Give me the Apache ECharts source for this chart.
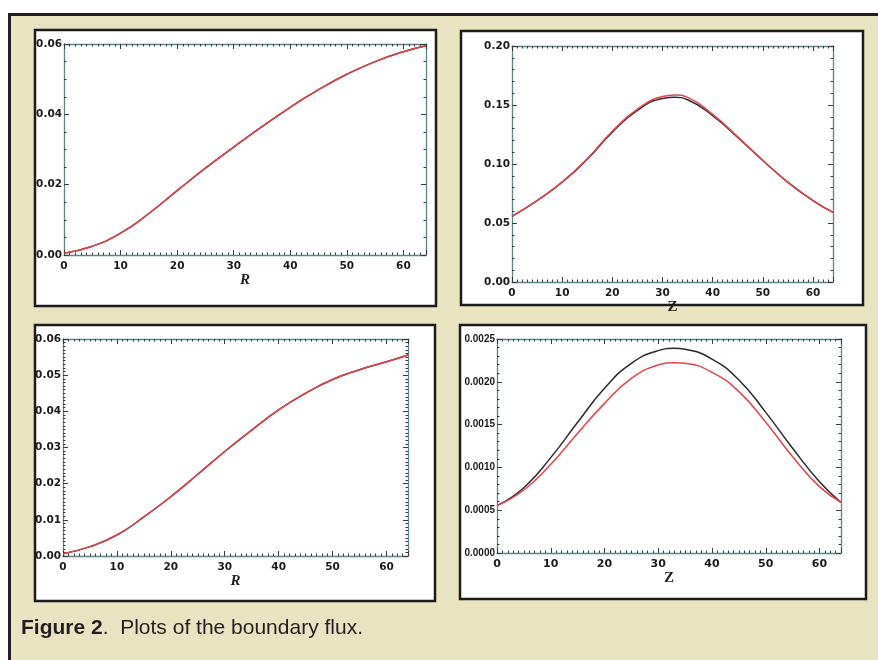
<!DOCTYPE html>
<html>
<head>
<meta charset="utf-8">
<script src="https://cdn.jsdelivr.net/npm/echarts@6/dist/echarts.min.js"></script>
<style>
  html, body { margin: 0; padding: 0; background: #ffffff; }
  #chart { width: 878px; height: 660px; }
</style>
</head>
<body>
<div id="chart"></div>
<script>
// ---- Data ----
// Top-left: boundary flux vs R
const rTL = [0, 5, 10, 15, 20, 25, 30, 35, 40, 45, 50, 55, 60, 64];
const fluxTL_black = [0.0005, 0.0025, 0.0062, 0.0118, 0.0183, 0.0247, 0.0307, 0.0365, 0.0420, 0.0470, 0.0514, 0.0550, 0.0578, 0.0595];
const fluxTL_red   = [0.0005, 0.0025, 0.0062, 0.0118, 0.0183, 0.0247, 0.0307, 0.0365, 0.0420, 0.0470, 0.0514, 0.0550, 0.0578, 0.0595];

// Top-right: boundary flux vs Z
const zTR = [0, 5, 10, 15, 20, 25, 30, 32.5, 35, 40, 45, 50, 55, 60, 64];
const fluxTR_black = [0.0556, 0.069, 0.0845, 0.104, 0.1270, 0.1455, 0.1555, 0.1565, 0.1545, 0.1410, 0.1225, 0.1030, 0.0845, 0.069, 0.059];
const fluxTR_red   = [0.0558, 0.069, 0.0848, 0.1045, 0.1278, 0.1465, 0.1572, 0.1585, 0.1565, 0.1420, 0.1230, 0.1032, 0.0846, 0.069, 0.059];

// Bottom-left: boundary flux vs R
const rBL = [0, 5, 10, 15, 20, 25, 30, 35, 40, 45, 50, 55, 60, 64];
const fluxBL_black = [0.0006, 0.0026, 0.0058, 0.0108, 0.0164, 0.0226, 0.0289, 0.0348, 0.0404, 0.0450, 0.0488, 0.0515, 0.0537, 0.0556];
const fluxBL_red   = [0.0006, 0.0026, 0.0058, 0.0108, 0.0164, 0.0226, 0.0289, 0.0348, 0.0404, 0.0450, 0.0488, 0.0515, 0.0537, 0.0556];

// Bottom-right: boundary flux vs Z
const zBR = [0, 5, 10, 15, 20, 25, 30, 33, 35, 40, 45, 50, 55, 60, 64];
const fluxBR_black = [0.000553, 0.000763, 0.001114, 0.001527, 0.001924, 0.002216, 0.002364, 0.002391, 0.002380, 0.002266, 0.002021, 0.001643, 0.001223, 0.000833, 0.000592];
const fluxBR_red   = [0.000553, 0.000736, 0.001036, 0.001398, 0.001748, 0.002040, 0.002196, 0.002224, 0.002216, 0.002111, 0.001885, 0.001527, 0.001125, 0.000775, 0.000592];

// Axis ranges / tick steps
const xRange = [0, 64];
const xStep = 10;
const yTL = { max: 0.06, step: 0.02, minor: 4, dec: 2 };
const yTR = { max: 0.20, step: 0.05, minor: 5, dec: 2 };
const yBL = { max: 0.06, step: 0.01, minor: 10, dec: 2 };
const yBR = { max: 0.0025, step: 0.0005, minor: 5, dec: 4 };
const captionBold = 'Figure 2';
const captionRest = '.  Plots of the boundary flux.';

// ---- Build chart ----
const pairs = (xs, ys) => xs.map((x, i) => [x, ys[i]]);

const grids = [
  { left: 64, top: 44, width: 362, height: 211 },
  { left: 512, top: 46, width: 321, height: 236 },
  { left: 63, top: 339, width: 345, height: 217 },
  { left: 497, top: 339, width: 344, height: 214 }
];

const axisLineColor = '#5a8782';
const tickColor = '#3a3a3a';
const labelFont = 'DejaVu Sans';

function xAxes(gi, name, italic, nameGap, fontSize) {
  const common = {
    type: 'value', gridIndex: gi, min: xRange[0], max: xRange[1], interval: xStep,
    axisLine: { show: true, onZero: false, lineStyle: { color: axisLineColor, width: 1.3 } },
    axisTick: { show: true, inside: true, length: 5, lineStyle: { color: tickColor, width: 1 } },
    minorTick: { show: true, splitNumber: 10, length: 2.5, lineStyle: { color: tickColor, width: 1 } },
    splitLine: { show: false }, minorSplitLine: { show: false }
  };
  return [
    Object.assign({}, common, {
      position: 'bottom',
      axisLabel: { show: true, margin: 6, showMaxLabel: false, color: '#1a1a1a', fontFamily: labelFont, fontWeight: 'bold', fontSize: fontSize || 10.5 },
      name: name, nameLocation: 'middle', nameGap: nameGap,
      nameTextStyle: { fontFamily: 'Liberation Serif', fontStyle: italic ? 'italic' : 'normal', fontWeight: 'bold', fontSize: 15, color: '#222' }
    }),
    Object.assign({}, common, { position: 'top', axisLabel: { show: false } })
  ];
}

function yAxes(gi, cfg, font) {
  const common = {
    type: 'value', gridIndex: gi, min: 0, max: cfg.max, interval: cfg.step,
    axisLine: { show: true, onZero: false, lineStyle: { color: axisLineColor, width: 1.3 } },
    axisTick: { show: true, inside: true, length: 5, lineStyle: { color: tickColor, width: 1 } },
    minorTick: { show: true, splitNumber: cfg.minor, length: 2.5, lineStyle: { color: tickColor, width: 1 } },
    splitLine: { show: false }, minorSplitLine: { show: false }
  };
  return [
    Object.assign({}, common, {
      position: 'left',
      axisLabel: { show: true, margin: 2, color: '#1a1a1a', fontFamily: font || labelFont, fontWeight: 'bold', fontSize: font ? 10 : 10.5,
        formatter: v => v.toFixed(cfg.dec) }
    }),
    Object.assign({}, common, { position: 'right', axisLabel: { show: false } })
  ];
}

const xAxis = [].concat(
  xAxes(0, 'R', true, 10),
  xAxes(1, 'Z', false, 8),
  xAxes(2, 'R', true, 11),
  xAxes(3, 'Z', false, 15, 11)
);
const yAxis = [].concat(
  yAxes(0, yTL),
  yAxes(1, yTR),
  yAxes(2, yBL),
  yAxes(3, yBR, 'Liberation Sans')
);

function line(gi, xs, ys, color, z) {
  return {
    type: 'line', xAxisIndex: gi * 2, yAxisIndex: gi * 2,
    data: pairs(xs, ys), smooth: 0.5, showSymbol: false, symbol: 'none',
    lineStyle: { color: color, width: 1.5 }, z: z, silent: true
  };
}
const BLACK = '#2a2a2a';
const RED = '#e0464c';

const series = [
  line(0, rTL, fluxTL_black, BLACK, 2), line(0, rTL, fluxTL_red, RED, 3),
  line(1, zTR, fluxTR_black, BLACK, 2), line(1, zTR, fluxTR_red, RED, 3),
  line(2, rBL, fluxBL_black, BLACK, 2), line(2, rBL, fluxBL_red, RED, 3),
  line(3, zBR, fluxBR_black, BLACK, 2), line(3, zBR, fluxBR_red, RED, 3)
];

const panelStroke = { fill: '#ffffff', stroke: '#1c1c1c', lineWidth: 2.5 };
const graphic = [
  { type: 'rect', z: -10, shape: { x: 0, y: 0, width: 878, height: 13 }, style: { fill: '#ffffff' } },
  { type: 'rect', z: -10, shape: { x: 0, y: 0, width: 8, height: 660 }, style: { fill: '#ffffff' } },
  { type: 'rect', z: -9, shape: { x: 8, y: 13, width: 870, height: 3 }, style: { fill: '#231f20' } },
  { type: 'rect', z: -9, shape: { x: 8, y: 13, width: 3, height: 647 }, style: { fill: '#231f20' } },
  { type: 'rect', z: -8, shape: { x: 35, y: 30, width: 401, height: 276 }, style: panelStroke },
  { type: 'rect', z: -8, shape: { x: 461, y: 31, width: 402, height: 274 }, style: panelStroke },
  { type: 'rect', z: -8, shape: { x: 35, y: 325, width: 400, height: 276 }, style: panelStroke },
  { type: 'rect', z: -8, shape: { x: 460, y: 325, width: 406, height: 274 }, style: panelStroke },
  { type: 'text', z: 5, x: 21, y: 628,
    style: {
      text: '{b|' + captionBold + '}' + captionRest,
      fontFamily: 'Liberation Sans', fontSize: 21, fill: '#231f20', verticalAlign: 'middle',
      rich: { b: { fontFamily: 'Liberation Sans', fontSize: 21, fontWeight: 'bold', fill: '#231f20' } }
    } }
];

const chart = echarts.init(document.getElementById('chart'), null, { renderer: 'canvas' });
chart.setOption({
  backgroundColor: '#e8e3c1',
  animation: false,
  grid: grids.map(g => Object.assign({ show: false, containLabel: false }, g)),
  xAxis: xAxis,
  yAxis: yAxis,
  series: series,
  graphic: graphic
});
</script>
</body>
</html>
